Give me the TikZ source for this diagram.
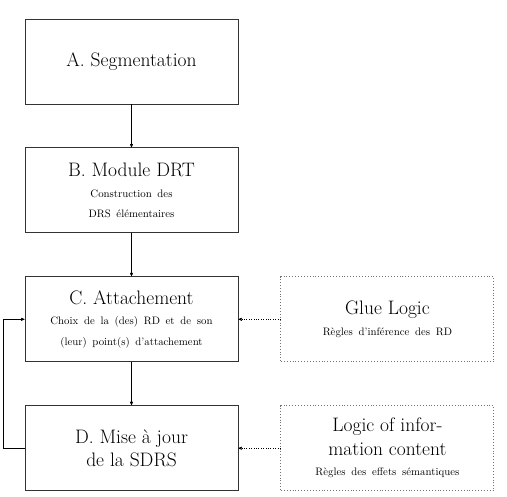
\documentclass[tikz,border=0pt]{standalone}
\usepackage{tikz}
\usetikzlibrary{arrows,positioning}
\tikzset{>=stealth'}
\tikzstyle{etape}=[draw=black!80, line width=0.9pt, minimum width=213pt, minimum height=85pt,
	align=center, font=\fontsize{19.5}{23.5}\selectfont]
\tikzstyle{regles}=[etape, draw=black!55, dotted]
\newcommand{\detail}[1]{{\fontsize{10.8}{12}\selectfont\spaceskip=5.7pt plus 1pt #1}}

\begin{document}
\begin{tikzpicture}[node distance=43pt]
	\useasboundingbox (0,0) rectangle (507pt,-497pt);
	\node[etape] (seg) at (131.5pt,-61.5pt) {A. Segmentation};
	\node[etape, below=of seg] (drt) {B. Module DRT\\[-3pt]
		\detail{Construction des}\\[-3pt] \detail{DRS élémentaires}};
	\node[etape, below=of drt] (att) {C. Attachement\\[-3pt]
		\detail{Choix de la (des) RD et de son}\\[-3pt] \detail{(leur) point(s) d'attachement}};
	\node[etape, below=of att] (maj) {D. Mise à jour\\de la SDRS};
	\node[regles, right=42pt of att] (glue) {Glue Logic\\[-2pt] \detail{Règles d'inférence des RD}};
	\node[regles, right=42pt of maj] (loi) {Logic of infor-\\mation content\\[-3pt]
		\detail{Règles des effets sémantiques}};
	% flux principal
	\draw[->] (seg) -- (drt);
	\draw[->] (drt) -- (att);
	\draw[->] (att) -- (maj);
	% regles
	\draw[->, dotted] (glue) -- (att);
	\draw[->, dotted] (loi) -- (maj);
	% retour
	\draw[->] (maj.west) -- ++(-21pt,0) |- (att.west);
\end{tikzpicture}
\end{document}
